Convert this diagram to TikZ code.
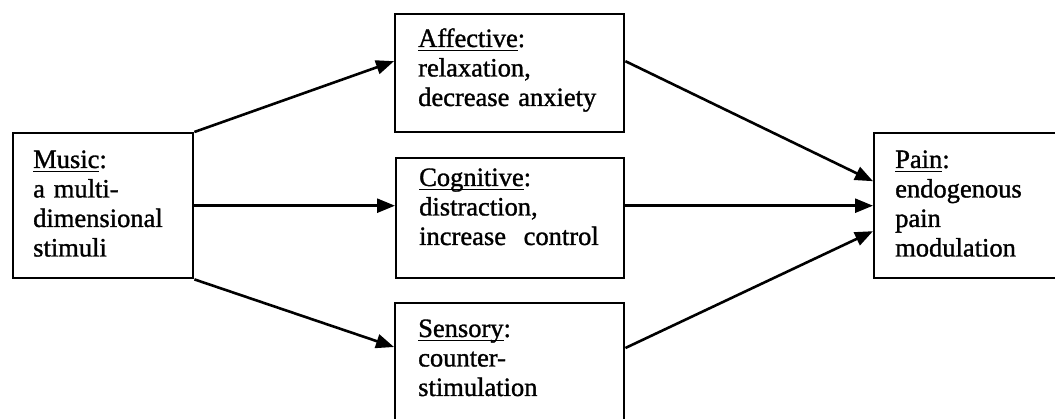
\documentclass[tikz,border=0pt]{standalone}
\usepackage{fontspec}
\setmainfont{Liberation Serif}[UprightFeatures={FakeBold=1.2}]
\usetikzlibrary{arrows.meta,calc}
\newcommand\ulw[1]{\setbox0\hbox{#1}\rlap{\rule[-4.5pt]{\wd0}{1.4pt}}\box0}
\begin{document}
\begin{tikzpicture}[x=1pt,y=1pt,
  boxnode/.style={draw, line width=2.4pt, rectangle, inner sep=0pt, anchor=north west},
  txt/.style={anchor=base west, inner sep=0pt, text width=230pt, align=left,
    font=\fontsize{26.5}{29.5}\selectfont},
  conn/.style={line width=2.6pt, -{Triangle[length=18pt,width=14pt]}}]
\useasboundingbox (0,0) rectangle (1055,419);
\clip (0,0) rectangle (1055,419);
% boxes
\node[boxnode, minimum width=180pt, minimum height=145pt] (music) at (12,287) {};
\node[boxnode, minimum width=229pt, minimum height=118pt] (aff) at (394,406) {};
\node[boxnode, minimum width=228pt, minimum height=120pt] (cog) at (395,262) {};
\node[boxnode, minimum width=229pt, minimum height=140pt] (sen) at (394,117) {};
\node[boxnode, minimum width=220pt, minimum height=145pt] (pain) at (873,287) {};
% texts
\node[txt] (musict) at (33,251) {\ulw{Music}:\\a multi-\\dimensional\\stimuli};
\node[txt] (afft) at (418,372) {\ulw{Affective}:\\relaxation,\\decrease anxiety};
\node[txt] (cogt) at (419,233) {\ulw{Cognitive}:\\distraction,\\increase\ \ control};
\node[txt] (sent) at (418,82) {\ulw{Sensory}:\\counter-\\stimulation};
\node[txt] (paint) at (895,251) {\ulw{Pain}:\\endogenous\\pain\\modulation};
% connectors
\draw[conn] (music.north east) -- ([yshift=12pt]aff.west);
\draw[conn] (music.east) -- (music.east -| cog.west);
\draw[conn] (music.south east) -- ([yshift=-45pt]sen.north west);
\draw[conn] ([yshift=12pt]aff.east) -- ([yshift=24.5pt]pain.west);
\draw[conn] (cog.east |- pain.west) -- (pain.west);
\draw[conn] ([yshift=-46pt]sen.north east) -- ([yshift=-25.5pt]pain.west);
\end{tikzpicture}
\end{document}
